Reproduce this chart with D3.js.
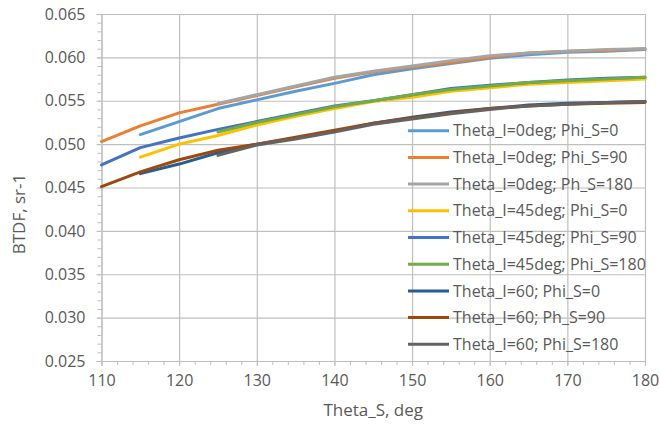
<!DOCTYPE html>
<meta charset="utf-8">
<script src="https://d3js.org/d3.v7.min.js"></script>
<style>
  body { margin: 0; background: #fff; }
  text { font-family: "Open Sans", sans-serif; fill: #595959; }
</style>
<body>
<script>
  // x values, Theta_S in deg
  var thetaS = [110, 115, 120, 125, 130, 135, 140, 145, 150, 155, 160, 165, 170, 175, 180];

  var seriesNames = [
    "Theta_I=0deg; Phi_S=0", "Theta_I=0deg; Phi_S=90", "Theta_I=0deg; Ph_S=180",
    "Theta_I=45deg; Phi_S=0", "Theta_I=45deg; Phi_S=90", "Theta_I=45deg; Phi_S=180",
    "Theta_I=60; Phi_S=0", "Theta_I=60; Ph_S=90", "Theta_I=60; Phi_S=180"
  ];
  var seriesColors = ["#5B9BD5", "#ED7D31", "#A5A5A5", "#FFC000", "#4472C4", "#70AD47", "#255E91", "#9E480E", "#636363"];

  // BTDF values (null = not measured)
  var i0phi0   = [null, 0.0511, 0.0526, 0.0541, 0.0551, 0.0561, 0.0570, 0.0580, 0.0587, 0.0593, 0.0599, 0.0603, 0.0606, 0.0607, 0.0609];
  var i0phi90  = [0.0503, 0.0521, 0.0536, 0.0546, 0.0556, 0.0566, 0.0576, 0.0583, 0.0589, 0.0594, 0.0600, 0.0605, 0.0607, 0.0608, 0.0610];
  var i0phi180 = [null, null, null, 0.0547, 0.0557, 0.0567, 0.0577, 0.0584, 0.0590, 0.0596, 0.0602, 0.0605, 0.0607, 0.0609, 0.0610];
  var i45phi0   = [null, 0.0485, 0.0500, 0.0510, 0.0522, 0.0532, 0.0541, 0.0549, 0.0554, 0.0561, 0.0565, 0.0569, 0.0571, 0.0573, 0.0575];
  var i45phi90  = [0.0476, 0.0496, 0.0507, 0.0517, 0.0526, 0.0535, 0.0544, 0.0550, 0.0557, 0.0564, 0.0568, 0.0571, 0.0574, 0.0576, 0.0577];
  var i45phi180 = [null, null, null, 0.0514, 0.0525, 0.0534, 0.0543, 0.0550, 0.0557, 0.0563, 0.0567, 0.0571, 0.0573, 0.0575, 0.0577];
  var i60phi0   = [null, 0.0466, 0.0477, 0.0490, 0.0500, 0.0507, 0.0515, 0.0524, 0.0531, 0.0537, 0.0541, 0.0545, 0.0547, 0.0548, 0.0549];
  var i60phi90  = [0.0451, 0.0468, 0.0482, 0.0493, 0.0500, 0.0508, 0.0516, 0.0524, 0.0530, 0.0536, 0.0541, 0.0544, 0.0546, 0.0547, 0.0548];
  var i60phi180 = [null, null, null, 0.0487, 0.0499, 0.0506, 0.0514, 0.0523, 0.0529, 0.0535, 0.0540, 0.0544, 0.0546, 0.0548, 0.0549];

  var allSeries = [i0phi0, i0phi90, i0phi180, i45phi0, i45phi90, i45phi180, i60phi0, i60phi90, i60phi180];

  var xTicks = [110, 120, 130, 140, 150, 160, 170, 180];
  var yTicks = [0.025, 0.030, 0.035, 0.040, 0.045, 0.050, 0.055, 0.060, 0.065];

  var W = 660, H = 427;
  var margin = { top: 14, right: 15, bottom: 66, left: 101.5 },
    width = W - margin.left - margin.right,
    height = H - margin.top - margin.bottom;

  var svg = d3.select("body")
    .append("svg")
    .attr("width", W)
    .attr("height", H);

  var g = svg.append("g")
    .attr("transform", "translate(" + margin.left + "," + margin.top + ")");

  var x = d3.scaleLinear().domain([110, 180]).range([0, width]);
  var y = d3.scaleLinear().domain([0.025, 0.065]).range([height, 0]);

  // grid lines
  g.append("g")
    .attr("class", "grid")
    .call(d3.axisLeft(y).tickValues(yTicks).tickSize(-width).tickFormat(""))
    .call(function (s) { s.select(".domain").remove(); });
  g.append("g")
    .attr("class", "grid")
    .attr("transform", "translate(0," + height + ")")
    .call(d3.axisBottom(x).tickValues(xTicks).tickSize(-height).tickFormat(""))
    .call(function (s) { s.select(".domain").remove(); });
  g.selectAll(".grid line").attr("stroke", "#d9d9d9").attr("stroke-width", 1.2);

  // minor ticks
  var xMinor = d3.range(110, 181, 2);
  var yMinor = d3.range(25, 66, 1).map(function (d) { return d / 1000; });
  g.append("g")
    .attr("class", "minor")
    .attr("transform", "translate(0," + height + ")")
    .call(d3.axisBottom(x).tickValues(xMinor).tickSize(4).tickFormat(""));
  g.append("g")
    .attr("class", "minor")
    .call(d3.axisLeft(y).tickValues(yMinor).tickSize(4).tickFormat(""));

  // main axes
  var xAxis = g.append("g")
    .attr("transform", "translate(0," + height + ")")
    .call(d3.axisBottom(x).tickValues(xTicks).tickSize(5).tickPadding(9).tickFormat(d3.format("d")));
  var yAxis = g.append("g")
    .call(d3.axisLeft(y).tickValues(yTicks).tickSize(5).tickPadding(11).tickFormat(d3.format(".3f")));

  g.selectAll(".minor .domain").remove();
  g.selectAll(".minor line, .tick line").attr("stroke", "#bfbfbf");
  xAxis.select(".domain").attr("stroke", "#bfbfbf");
  yAxis.select(".domain").attr("stroke", "#bfbfbf");
  g.selectAll(".tick text")
    .attr("font-size", "16px")
    .attr("font-family", "Open Sans")
    .attr("fill", "#595959");

  // lines
  var line = d3.line()
    .defined(function (d) { return d != null; })
    .x(function (d, i) { return x(thetaS[i]); })
    .y(function (d) { return y(d); });

  g.selectAll(".series")
    .data(allSeries)
    .enter()
    .append("path")
    .attr("class", "series")
    .attr("d", line)
    .attr("fill", "none")
    .attr("stroke", function (d, i) { return seriesColors[i]; })
    .attr("stroke-width", 3)
    .attr("stroke-linejoin", "round")
    .attr("stroke-linecap", "round");

  // axis titles
  svg.append("text")
    .attr("x", margin.left + width / 2)
    .attr("y", 416)
    .attr("text-anchor", "middle")
    .attr("font-size", "17px")
    .text("Theta_S, deg");

  svg.append("text")
    .attr("transform", "translate(25,214) rotate(-90)")
    .attr("text-anchor", "middle")
    .attr("font-size", "17px")
    .text("BTDF, sr-1");

  // legend
  var legend = svg.append("g").attr("transform", "translate(408,130.7)");
  var item = legend.selectAll(".item")
    .data(seriesNames)
    .enter()
    .append("g")
    .attr("transform", function (d, i) { return "translate(0," + (i * 26.7) + ")"; });
  item.append("line")
    .attr("x1", 0).attr("x2", 41)
    .attr("stroke", function (d, i) { return seriesColors[i]; })
    .attr("stroke-width", 3);
  item.append("text")
    .attr("x", 45)
    .attr("dy", "0.35em")
    .attr("font-size", "16px")
    .text(function (d) { return d; });
</script>
</body>
